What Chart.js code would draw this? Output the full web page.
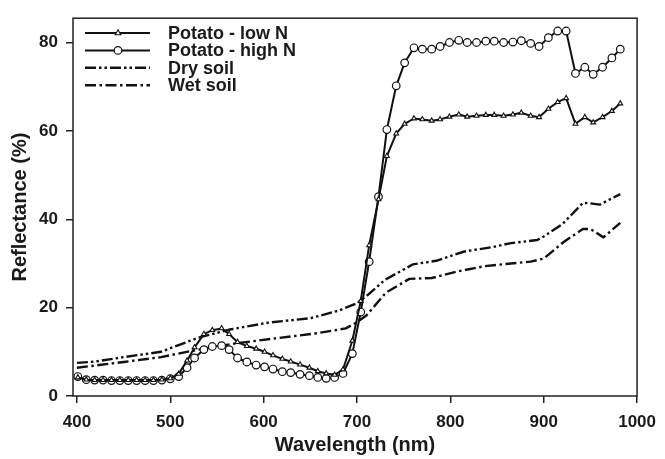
<!DOCTYPE html>
<html>
<head>
<meta charset="utf-8">
<title>Reflectance spectra</title>
<script src="https://cdn.jsdelivr.net/npm/chart.js@4.4.1/dist/chart.umd.min.js"></script>
<style>
  html, body { margin: 0; padding: 0; background: #fff; }
  #wrap { width: 665px; height: 459px; }
</style>
</head>
<body>
<div id="wrap"><canvas id="chart" width="665" height="459"></canvas></div>
<script>
// ---- values ----
const WAVELENGTHS = [
  401, 410, 419, 428, 437, 446, 455, 464, 473, 482, 491, 500,
  509, 518, 526, 536, 545, 555, 563, 572, 582, 592, 601, 610,
  620, 629, 639, 649, 658, 667, 676, 685, 695, 704, 713, 723,
  732, 742, 751, 761, 770, 780, 789, 799, 809, 818, 828, 838,
  847, 857, 867, 876, 886, 895, 905, 915, 924, 934, 944, 953,
  963, 973, 982
];
const POTATO_LOW_N = [
  4.2, 3.7, 3.6, 3.6, 3.6, 3.6, 3.6, 3.6, 3.6, 3.6, 3.7, 4.0,
  5.0, 8.0, 11.0, 14.0, 14.9, 15.3, 14.0, 12.2, 11.3, 10.7, 10.0, 9.2,
  8.4, 7.8, 7.1, 6.4, 5.6, 5.1, 4.8, 6.0, 12.5, 21.5, 34.1, 44.5,
  54.3, 59.4, 61.6, 62.8, 62.6, 62.3, 62.6, 63.2, 63.7, 63.2, 63.4, 63.6,
  63.6, 63.4, 63.7, 64.1, 63.4, 63.1, 65.0, 66.5, 67.4, 61.6, 63.1, 61.9,
  63.1, 64.5, 66.2
];
const POTATO_HIGH_N = [
  4.4, 3.7, 3.6, 3.6, 3.5, 3.5, 3.5, 3.5, 3.5, 3.5, 3.6, 3.9,
  4.4, 6.4, 8.6, 10.5, 11.2, 11.4, 10.5, 8.6, 7.7, 7.0, 6.6, 6.1,
  5.5, 5.3, 4.9, 4.6, 4.2, 4.0, 4.2, 5.1, 9.6, 19.0, 30.4, 45.1,
  60.3, 70.2, 75.4, 78.8, 78.5, 78.5, 79.1, 80.0, 80.5, 80.0, 80.0, 80.3,
  80.3, 80.0, 80.1, 80.4, 79.8, 79.1, 81.1, 82.6, 82.6, 73.0, 74.4, 72.8,
  74.4, 76.5, 78.5
];
const DRY_SOIL_WL = [400, 420, 450, 490, 530, 565, 605, 650, 680, 700, 710, 730, 760, 785, 815, 845, 865, 893, 900, 920, 942, 950, 960, 982];
const DRY_SOIL    = [7.5, 7.8, 8.8, 10.0, 13.2, 15.1, 16.6, 17.6, 19.3, 21.0, 22.6, 26.3, 29.8, 30.6, 32.7, 33.7, 34.6, 35.3, 36.1, 38.9, 43.7, 43.6, 43.3, 45.7];
const WET_SOIL_WL = [400, 420, 450, 490, 530, 570, 615, 657, 688, 700, 710, 731, 756, 780, 808, 837, 865, 886, 900, 921, 942, 950, 964, 982];
const WET_SOIL    = [6.4, 6.9, 7.7, 8.8, 10.5, 11.9, 13.1, 14.2, 15.3, 16.7, 18.2, 23.4, 26.5, 26.7, 28.2, 29.4, 30.0, 30.4, 31.1, 34.8, 37.8, 37.8, 35.9, 39.2];

const SERIES_NAMES = ['Potato - low N', 'Potato - high N', 'Dry soil', 'Wet soil'];
const X_TICKS = [400, 500, 600, 700, 800, 900, 1000];
const Y_TICKS = [0, 20, 40, 60, 80];

const FONT = "'Liberation Sans', Arial, Helvetica, sans-serif";
const INK  = '#1a1a1a';

const xy = (xs, ys) => xs.map((x, i) => ({ x, y: ys[i] }));

// ── frame + legend drawn inside the plot ─────────────────────
const framePlugin = {
  id: 'frame',
  afterDatasetsDraw(chart) {
    const { ctx, chartArea: a } = chart;
    ctx.save();
    ctx.strokeStyle = '#222';
    ctx.lineWidth = 1.5;
    ctx.strokeRect(a.left, a.top, a.right - a.left, a.bottom - a.top);

    chart.data.datasets.forEach((ds, i) => {
      const y = 33 + i * 17.4;
      ctx.strokeStyle = ds.borderColor;
      ctx.lineWidth = ds.borderWidth;
      ctx.setLineDash(ds.borderDash || []);
      ctx.beginPath();
      ctx.moveTo(85, y);
      ctx.lineTo(150, y);
      ctx.stroke();
      ctx.setLineDash([]);

      if (ds.pointRadius > 0) {
        const r = ds.pointRadius;
        ctx.fillStyle = ds.pointBackgroundColor;
        ctx.strokeStyle = ds.pointBorderColor;
        ctx.lineWidth = ds.pointBorderWidth;
        ctx.beginPath();
        if (ds.pointStyle === 'triangle') {
          ctx.moveTo(118, y - r * 1.15);
          ctx.lineTo(118 + r, y + r * 0.6);
          ctx.lineTo(118 - r, y + r * 0.6);
          ctx.closePath();
        } else {
          ctx.arc(118, y, r, 0, Math.PI * 2);
        }
        ctx.fill();
        ctx.stroke();
      }

      ctx.fillStyle = INK;
      ctx.font = `bold 18px ${FONT}`;
      ctx.textAlign = 'left';
      ctx.textBaseline = 'middle';
      ctx.fillText(SERIES_NAMES[i], 168, y + 1);
    });
    ctx.restore();
  }
};

new Chart(document.getElementById('chart'), {
  type: 'line',
  data: {
    datasets: [
      {
        label: SERIES_NAMES[0],
        data: xy(WAVELENGTHS, POTATO_LOW_N),
        borderColor: '#111', borderWidth: 2,
        pointStyle: 'triangle', pointRadius: 2.8,
        pointBackgroundColor: '#fff', pointBorderColor: '#111', pointBorderWidth: 1.1
      },
      {
        label: SERIES_NAMES[1],
        data: xy(WAVELENGTHS, POTATO_HIGH_N),
        borderColor: '#111', borderWidth: 2,
        pointStyle: 'circle', pointRadius: 3.8,
        pointBackgroundColor: '#fff', pointBorderColor: '#111', pointBorderWidth: 1.2
      },
      {
        label: SERIES_NAMES[2],
        data: xy(DRY_SOIL_WL, DRY_SOIL),
        borderColor: '#111', borderWidth: 2.4,
        borderDash: [11, 3, 2.5, 3, 2.5, 3],
        pointRadius: 0
      },
      {
        label: SERIES_NAMES[3],
        data: xy(WET_SOIL_WL, WET_SOIL),
        borderColor: '#111', borderWidth: 2.4,
        borderDash: [11, 3.5, 2.5, 3.5],
        pointRadius: 0
      }
    ]
  },
  options: {
    responsive: false,
    animation: false,
    layout: { padding: { top: 9, right: 20, left: 0, bottom: 0 } },
    elements: { line: { tension: 0, borderCapStyle: 'butt', borderJoinStyle: 'round' } },
    plugins: { legend: { display: false }, tooltip: { enabled: false } },
    scales: {
      x: {
        type: 'linear',
        min: 395.8, max: 1000,
        afterBuildTicks: s => { s.ticks = X_TICKS.map(v => ({ value: v })); },
        afterFit: s => { s.height = 63; },
        border: { display: false },
        grid: { drawOnChartArea: false, drawTicks: true, tickLength: 7, color: '#222', lineWidth: 1.5 },
        ticks: {
          color: INK, padding: 9, maxRotation: 0,
          callback: v => String(v),
          font: { family: FONT, size: 17, weight: 'bold' }
        },
        title: {
          display: true, text: 'Wavelength (nm)', color: INK,
          padding: { top: 0, bottom: 2 },
          font: { family: FONT, size: 20, weight: 'bold', lineHeight: 1.2 }
        }
      },
      y: {
        min: 0, max: 85.5,
        afterBuildTicks: s => { s.ticks = Y_TICKS.map(v => ({ value: v })); },
        afterFit: s => { s.width = 73; },
        border: { display: false },
        grid: { drawOnChartArea: false, drawTicks: true, tickLength: 7, color: '#222', lineWidth: 1.5 },
        ticks: { color: INK, padding: 8, font: { family: FONT, size: 17, weight: 'bold' } },
        title: {
          display: true, text: 'Reflectance (%)', color: INK,
          padding: { top: 8, bottom: 0 },
          font: { family: FONT, size: 20, weight: 'bold', lineHeight: 1.2 }
        }
      }
    }
  },
  plugins: [framePlugin]
});
</script>
</body>
</html>
